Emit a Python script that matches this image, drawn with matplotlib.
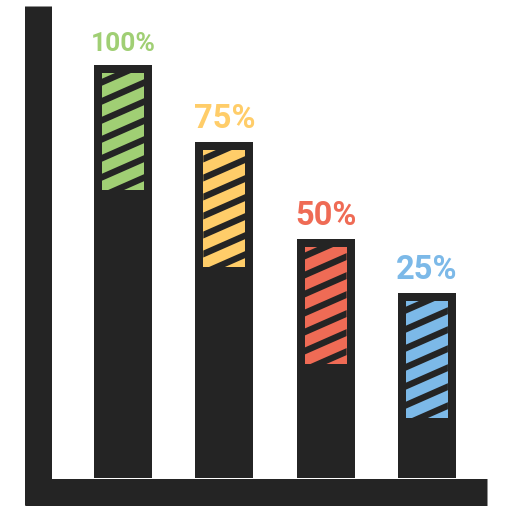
from matplotlib import pyplot as plt
from matplotlib.patches import Polygon

labels = ['100%', '75%', '50%', '25%']
heights = [100, 81.4, 57.9, 44.8]
colors = ['#a0cf74', '#ffcd69', '#ef6b55', '#7cb9e8']
label_sizes = [19, 23.5, 23.5, 23.5]

dark = '#242424'
xs = 101.3   # pixels per category step
ys = 4.13    # pixels per value unit

fig = plt.figure(figsize=(5.12, 5.12), dpi=100)
ax = fig.add_axes([0, 0, 1, 1])
ax.set_xlim(-123 / xs, 389 / xs)
ax.set_ylim(-34 / ys, 478 / ys)

x = list(range(len(heights)))
ax.bar(x, heights, width=58 / xs, color=dark, zorder=2)

slope = 0.44
period = 19
for i in x:
    top = heights[i] - 8 / ys
    inner = ax.bar(i, 117 / ys, bottom=top - 117 / ys, width=42 / xs,
                   color=colors[i], zorder=3)[0]
    x0 = i - 21 / xs
    for k in range(-2, 9):
        c = 5.7 + period * k
        pts = [(0, c), (42, c - slope * 42), (42, c + 7 - slope * 42), (0, c + 7)]
        poly = Polygon([(x0 + px / xs, top - py / ys) for px, py in pts],
                       closed=True, color=dark, lw=0, zorder=4)
        ax.add_patch(poly)
        poly.set_clip_path(inner)
    ax.text(i, heights[i] + 14 / ys, labels[i], ha='center', va='baseline',
            fontsize=label_sizes[i], fontweight='bold', family='Roboto',
            color=colors[i])

# thick axes
lw = 27 * 0.72
ax.spines['left'].set_position(('data', (38.5 - 123) / xs))
ax.spines['left'].set_bounds(-27 / ys, 472 / ys)
ax.spines['bottom'].set_position(('data', -13.5 / ys))
ax.spines['bottom'].set_bounds((25 - 123) / xs, (487 - 123) / xs)
for s in ['left', 'bottom']:
    ax.spines[s].set_linewidth(lw)
    ax.spines[s].set_color(dark)
    ax.spines[s].set_capstyle('butt')
ax.spines['top'].set_visible(False)
ax.spines['right'].set_visible(False)
ax.set_xticks([])
ax.set_yticks([])

plt.savefig('out.png', dpi=100)
